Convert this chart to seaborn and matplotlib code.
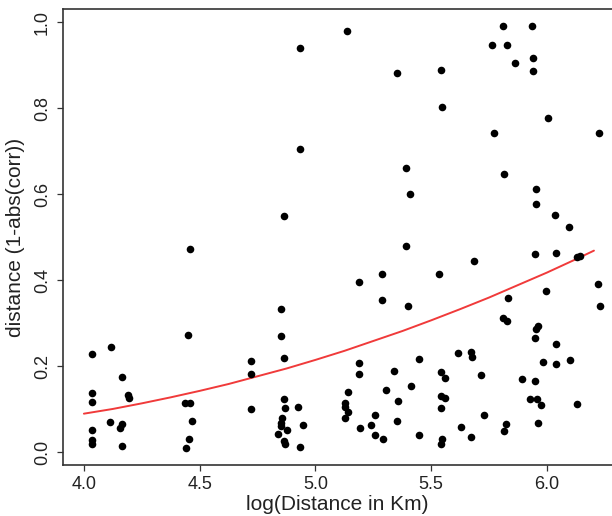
import matplotlib
matplotlib.use('Agg')
import matplotlib.pyplot as plt
import seaborn as sns
import pandas as pd

# ---- data ----
log_distance = [
    4.933, 4.933, 4.865, 5.137, 5.353, 5.542, 5.545, 5.391, 5.410, 5.811,
    5.934, 5.764, 5.826, 5.862, 5.938, 5.938, 6.006, 5.772, 6.225, 5.813,
    5.951, 5.951, 6.036, 6.095,
    4.458, 4.451, 4.037, 4.115, 4.165, 4.037, 4.037, 4.190, 4.193, 4.037,
    4.037, 4.037, 4.114, 4.165, 4.154, 4.165, 4.436, 4.459, 4.465, 4.452,
    4.443,
    4.852, 4.852, 4.864, 4.721, 4.721, 4.721, 4.864, 4.870, 4.923, 4.857,
    4.852, 4.878, 4.852, 4.946, 4.840, 4.864, 4.867, 4.933,
    5.392, 5.188, 5.289, 5.289, 5.400, 5.532, 5.683, 5.188, 5.188, 5.340,
    5.449, 5.617, 5.674, 5.678, 5.142, 5.126, 5.126, 5.142, 5.126, 5.303,
    5.411, 5.358, 5.543, 5.558, 5.543, 5.561, 5.543, 5.256, 5.353, 5.193,
    5.242, 5.256, 5.290, 5.449, 5.545, 5.543, 5.628, 5.674,
    5.947, 6.037, 6.131, 6.141, 6.219, 6.230, 5.997, 5.832, 5.809, 5.828,
    5.963, 5.953, 5.947, 6.037, 5.985, 6.037, 6.101, 5.715, 5.891, 5.950,
    5.925, 5.956, 5.975, 6.131, 5.728, 5.821, 5.813, 5.963,
]
corr_distance = [
    0.940, 0.705, 0.550, 0.980, 0.883, 0.889, 0.802, 0.662, 0.600, 0.991,
    0.991, 0.946, 0.948, 0.905, 0.916, 0.887, 0.778, 0.742, 0.743, 0.648,
    0.612, 0.578, 0.551, 0.524,
    0.472, 0.272, 0.228, 0.245, 0.175, 0.138, 0.117, 0.133, 0.127, 0.053,
    0.028, 0.019, 0.070, 0.066, 0.056, 0.014, 0.114, 0.114, 0.073, 0.032,
    0.011,
    0.333, 0.270, 0.219, 0.212, 0.183, 0.100, 0.124, 0.104, 0.106, 0.081,
    0.069, 0.053, 0.061, 0.063, 0.042, 0.026, 0.019, 0.013,
    0.480, 0.396, 0.414, 0.355, 0.340, 0.415, 0.444, 0.208, 0.182, 0.190,
    0.217, 0.231, 0.233, 0.222, 0.140, 0.115, 0.105, 0.094, 0.081, 0.145,
    0.155, 0.119, 0.187, 0.174, 0.131, 0.126, 0.104, 0.087, 0.073, 0.056,
    0.063, 0.041, 0.032, 0.040, 0.030, 0.019, 0.060, 0.035,
    0.461, 0.463, 0.455, 0.457, 0.391, 0.340, 0.375, 0.359, 0.312, 0.306,
    0.294, 0.286, 0.267, 0.251, 0.209, 0.205, 0.215, 0.179, 0.170, 0.167,
    0.124, 0.123, 0.110, 0.112, 0.087, 0.067, 0.050, 0.069,
]
# red fitted curve, read along its length
fit_x = [4.000, 4.125, 4.250, 4.375, 4.500, 4.625, 4.750, 4.875, 5.000,
         5.125, 5.250, 5.375, 5.500, 5.625, 5.750, 5.875, 6.000, 6.125, 6.203]
fit_y = [0.090, 0.101, 0.114, 0.128, 0.143, 0.159, 0.177, 0.195, 0.215,
         0.236, 0.259, 0.282, 0.307, 0.333, 0.360, 0.389, 0.418, 0.449, 0.469]
x_ticks = [4.0, 4.5, 5.0, 5.5, 6.0]
y_ticks = [0.0, 0.2, 0.4, 0.6, 0.8, 1.0]
x_label = "log(Distance in Km)"
y_label = "distance (1-abs(corr))"

df = pd.DataFrame({"x": log_distance, "y": corr_distance})
fit = pd.DataFrame({"x": fit_x, "y": fit_y})

sns.set_theme(style="ticks")
plt.rcParams['font.family'] = ['Liberation Sans', 'DejaVu Sans']

W, H = 612, 516
fig = plt.figure(figsize=(W / 100, H / 100), dpi=100)
left, right, top, bottom = 63.3, 612, 9.3, 465.3
ax = fig.add_axes([left / W, 1 - bottom / H, (right - left) / W, (bottom - top) / H])

sns.scatterplot(data=df, x="x", y="y", color="black", s=30, linewidth=0, ax=ax, zorder=3)
sns.lineplot(data=fit, x="x", y="y", color="#f03a3a", lw=1.4, ax=ax, zorder=2)

ax.set_xlim(3.911, 6.281)
ax.set_ylim(-0.030, 1.030)
ax.set_xticks(x_ticks)
ax.set_xticklabels([f"{v:.1f}" for v in x_ticks])
ax.set_yticks(y_ticks)
ax.set_yticklabels([f"{v:.1f}" for v in y_ticks])

for s in ["left", "bottom", "top"]:
    ax.spines[s].set_visible(True)
    ax.spines[s].set_color("#333333")
    ax.spines[s].set_linewidth(1.2)
ax.spines["right"].set_visible(False)

ax.tick_params(axis="both", direction="out", length=4.5, width=0.9, color="#333333",
               labelsize=13, labelcolor="#222222", pad=3)
ax.tick_params(axis="y", pad=4.5)
for lab in ax.get_yticklabels():
    lab.set_rotation(90)
    lab.set_va("center")
    lab.set_ha("right")

ax.set_xlabel(x_label, fontsize=15, color="#222222", labelpad=2)
ax.set_ylabel(y_label, fontsize=15, color="#222222", labelpad=6)
ax.set_facecolor("white")
fig.patch.set_facecolor("white")

fig.savefig("out.png", dpi=100)
